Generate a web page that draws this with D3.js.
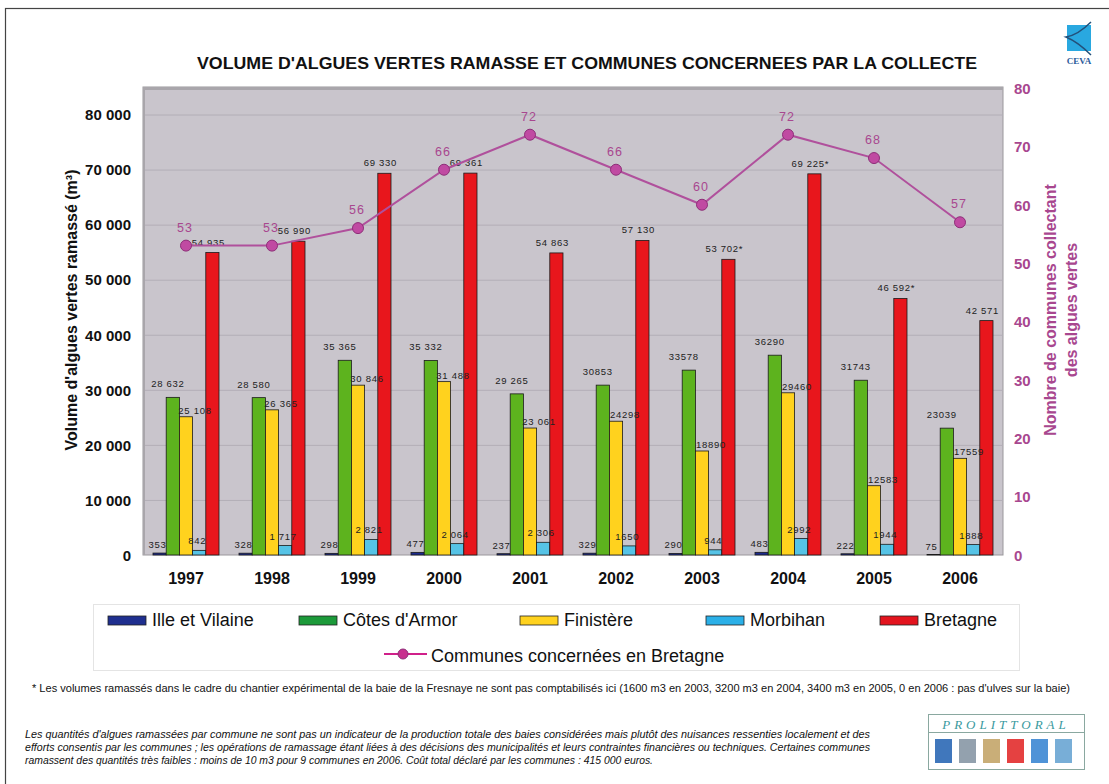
<!DOCTYPE html>
<html><head><meta charset="utf-8">
<script src="https://cdn.jsdelivr.net/npm/d3@7"></script>
<style>body{margin:0;background:#fff}svg{display:block}</style>
</head><body>
<svg id="c" width="1109" height="784"></svg>
<script>
const years = ["1997","1998","1999","2000","2001","2002","2003","2004","2005","2006"];
const seriesNames = ["Ille et Vilaine","Côtes d'Armor","Finistère","Morbihan","Bretagne"];
const illeEtVilaine = [353,328,298,477,237,329,290,483,222,75];
const cotesDArmor = [28632,28580,35365,35332,29265,30853,33578,36290,31743,23039];
const finistere = [25108,26365,30846,31488,23061,24298,18890,29460,12583,17559];
const morbihan = [842,1717,2821,2064,2306,1650,944,2992,1944,1888];
const bretagne = [54935,56990,69330,69361,54863,57130,53702,69225,46592,42571];
const communes = [53,53,56,66,72,66,60,72,68,57];
const labelsIV = ["353","328","298","477","237","329","290","483","222","75"];
const labelsCA = ["28 632","28 580","35 365","35 332","29 265","30853","33578","36290","31743","23039"];
const labelsFI = ["25 108","26 365","30 846","31 488","23 061","24298","18890","29460","12583","17559"];
const labelsMO = ["842","1 717","2 821","2 064","2 306","1650","944","2992","1944","1888"];
const labelsBR = ["54 935","56 990","69 330","69 361","54 863","57 130","53 702*","69 225*","46 592*","42 571"];
const leftTicks = [0,10000,20000,30000,40000,50000,60000,70000,80000];
const rightTicks = [0,10,20,30,40,50,60,70,80];

const colors = ["#1c2a8c","#5db31e","#ffd21e","#56c3e6","#e8161c"];
const legendColors = ["#1f2f8f","#1c9a3a","#ffd21e","#2bb0e8","#e3141e"];
const lineColor = "#b0509c";
const purple = "#a8478f";

const svg = d3.select("#c");
const F = "'Liberation Sans', Arial, sans-serif";
const FN = "'Liberation Sans Narrow', 'Liberation Sans', Arial, sans-serif";

// outer frame
svg.append("rect").attr("x",5.5).attr("y",8.5).attr("width",1120).attr("height",800)
  .attr("fill","none").attr("stroke","#444").attr("stroke-width",1.2);

const L=143,R=1003,T=87,B=555;
const x = d3.scaleBand().domain(years).range([L,R]);
const xs = d3.scaleBand().domain(seriesNames).range([10,76]);
const y = d3.scaleLinear().domain([0,85000]).range([B,T]);
const y2 = d3.scaleLinear().domain([0,80]).range([B,88]);

// plot background
svg.append("rect").attr("x",L).attr("y",T).attr("width",R-L).attr("height",B-T)
  .attr("fill","#c9c5cc").attr("stroke","#9a979c").attr("stroke-width",1);
svg.append("line").attr("x1",L).attr("x2",R).attr("y1",T+1.5).attr("y2",T+1.5).attr("stroke","#a9a6ab").attr("stroke-width",3);
svg.append("line").attr("x1",L+1).attr("x2",L+1).attr("y1",T).attr("y2",B).attr("stroke","#a9a6ab").attr("stroke-width",2);

// gridlines
svg.append("g").selectAll("line").data(leftTicks.filter(d=>d>0)).join("line")
  .attr("x1",L+2).attr("x2",R).attr("y1",d=>y(d)+0.5).attr("y2",d=>y(d)+0.5)
  .attr("stroke","#b3afb7").attr("stroke-width",1);

// left axis
const fmt = d => d3.format(",")(d).replace(/,/g," ");
const ax = svg.append("g").attr("transform",`translate(${L},0)`)
  .call(d3.axisLeft(y).tickValues(leftTicks).tickFormat(fmt).tickSize(0).tickPadding(12));
ax.select(".domain").remove();
ax.selectAll("text").attr("font-family",F).attr("font-weight","bold").attr("font-size",15).attr("fill","#111").attr("dy","0.35em");

// right axis
const ax2 = svg.append("g").attr("transform",`translate(${R},0)`)
  .call(d3.axisRight(y2).tickValues(rightTicks).tickSize(0).tickPadding(11));
ax2.select(".domain").remove();
ax2.selectAll("text").attr("font-family",F).attr("font-weight","bold").attr("font-size",15).attr("fill",purple).attr("dy","0.35em");

// x axis labels
svg.append("g").selectAll("text").data(years).join("text")
  .attr("x",d=>x(d)+x.bandwidth()/2).attr("y",584).attr("text-anchor","middle")
  .attr("font-family",FN).attr("font-weight","bold").attr("font-size",16).attr("fill","#111").text(d=>d);

// bars
const seriesData = [illeEtVilaine,cotesDArmor,finistere,morbihan,bretagne];
const seriesLabels = [labelsIV,labelsCA,labelsFI,labelsMO,labelsBR];
const labelDx = [-2,-5,9,-2,-4];
const labelDy = [-5,-10,-3,-6,-7];
seriesData.forEach((vals,si)=>{
  const g = svg.append("g");
  g.selectAll("rect").data(vals).join("rect")
    .attr("x",(d,i)=>x(years[i])+xs(seriesNames[si]))
    .attr("y",d=>y(d)).attr("width",xs.bandwidth()).attr("height",d=>B-y(d))
    .attr("fill",colors[si]).attr("stroke","#1a1a1a").attr("stroke-width",0.8);
});
seriesData.forEach((vals,si)=>{
  svg.append("g").selectAll("text").data(vals).join("text")
    .attr("x",(d,i)=>x(years[i])+xs(seriesNames[si])+xs.bandwidth()/2+labelDx[si])
    .attr("y",d=>y(d)+labelDy[si]).attr("text-anchor","middle")
    .attr("font-family",F).attr("font-size",9.5).attr("letter-spacing",0.7).attr("fill","#222")
    .text((d,i)=>seriesLabels[si][i]);
});

// line
const line = d3.line().x((d,i)=>x(years[i])+x.bandwidth()/2).y(d=>y2(d));
svg.append("path").datum(communes).attr("d",line).attr("fill","none").attr("stroke",lineColor).attr("stroke-width",2);
svg.append("g").selectAll("circle").data(communes).join("circle")
  .attr("cx",(d,i)=>x(years[i])+x.bandwidth()/2).attr("cy",d=>y2(d)).attr("r",5.5)
  .attr("fill","#c04aa2").attr("stroke","#8e2e78").attr("stroke-width",1);
svg.append("g").selectAll("text").data(communes).join("text")
  .attr("x",(d,i)=>x(years[i])+x.bandwidth()/2 - 1).attr("y",d=>y2(d)-14).attr("text-anchor","middle")
  .attr("font-family",F).attr("font-size",12.5).attr("letter-spacing",1).attr("fill",purple).text(d=>d);

// titles
svg.append("text").attr("x",587).attr("y",69).attr("text-anchor","middle")
  .attr("font-family",FN).attr("font-weight","bold").attr("font-size",17).attr("fill","#111")
  .attr("textLength",780).attr("lengthAdjust","spacingAndGlyphs")
  .text("VOLUME  D'ALGUES VERTES RAMASSE ET COMMUNES CONCERNEES PAR LA COLLECTE");
svg.append("text").attr("transform","translate(77,310) rotate(-90)").attr("text-anchor","middle")
  .attr("font-family",F).attr("font-weight","bold").attr("font-size",16).attr("fill","#111")
  .text("Volume d'algues vertes ramassé (m³)");
const rt = svg.append("text").attr("transform","translate(1056,310) rotate(-90)").attr("text-anchor","middle")
  .attr("font-family",F).attr("font-weight","bold").attr("font-size",16).attr("fill",purple);
rt.append("tspan").attr("x",0).attr("dy",0).text("Nombre de communes collectant");
rt.append("tspan").attr("x",0).attr("dy",21).text("des algues vertes");

// legend
svg.append("rect").attr("x",93.5).attr("y",604.5).attr("width",926).attr("height",66)
  .attr("fill","none").attr("stroke","#e4e4e4");
const legX = [108,299,520,706,880];
const lg = svg.append("g");
seriesNames.forEach((n,i)=>{
  lg.append("rect").attr("x",legX[i]).attr("y",616).attr("width",38).attr("height",9)
    .attr("fill",legendColors[i]).attr("stroke","#222").attr("stroke-width",0.8);
  lg.append("text").attr("x",legX[i]+44).attr("y",626).attr("font-family",FN).attr("font-size",18).attr("fill","#111").text(n);
});
lg.append("line").attr("x1",384).attr("x2",427).attr("y1",654).attr("y2",654).attr("stroke","#d0208a").attr("stroke-width",2);
lg.append("circle").attr("cx",403).attr("cy",654).attr("r",5).attr("fill","#c8308f").attr("stroke","#8e2e78");
lg.append("text").attr("x",431).attr("y",662).attr("font-family",FN).attr("font-size",18).attr("fill","#111").text("Communes concernées en Bretagne");

// footnotes
svg.append("text").attr("x",32).attr("y",692).attr("font-family",FN).attr("font-size",10.5).attr("fill","#111")
  .attr("textLength",1038).attr("lengthAdjust","spacingAndGlyphs")
  .text("* Les volumes ramassés dans le cadre du chantier expérimental de la baie de la Fresnaye ne sont pas comptabilisés ici (1600 m3 en 2003, 3200 m3 en 2004, 3400 m3 en 2005, 0 en 2006 : pas d'ulves sur la baie)");
const para = ["Les quantités d'algues ramassées par commune ne sont pas un indicateur de la production totale des baies considérées mais plutôt des nuisances ressenties localement et des",
"efforts consentis par les communes ; les opérations de ramassage étant liées à des décisions des municipalités et leurs contraintes financières ou techniques. Certaines communes",
"ramassent des quantités très faibles : moins de 10 m3 pour 9 communes en 2006. Coût total déclaré par les communes : 415 000  euros."];
const paraLen = [845,845,628];
para.forEach((t,i)=>{
  svg.append("text").attr("x",25).attr("y",738+i*13).attr("font-family",FN).attr("font-style","italic")
    .attr("font-size",10.5).attr("fill","#111").attr("textLength",paraLen[i]).attr("lengthAdjust","spacingAndGlyphs").text(t);
});

// CEVA logo
const lgC = svg.append("g");
lgC.append("rect").attr("x",1067).attr("y",25).attr("width",24).attr("height",26).attr("fill","#29a8e0");
lgC.append("path").attr("d","M1091,22 Q1078,35 1066,37 Q1078,42 1091,55").attr("fill","none").attr("stroke","#23507a").attr("stroke-width",1.5);
lgC.append("text").attr("x",1079).attr("y",64).attr("text-anchor","middle").attr("font-family","'Liberation Serif',serif")
  .attr("font-weight","bold").attr("font-size",9).attr("fill","#2a5a9a").text("CEVA");

// PROLITTORAL logo
const pg = svg.append("g");
pg.append("rect").attr("x",928.5).attr("y",714.5).attr("width",156).attr("height",55).attr("fill","#fff").attr("stroke","#8aa8a0");
pg.append("line").attr("x1",929).attr("x2",1084).attr("y1",732.5).attr("y2",732.5).attr("stroke","#8aa8a0");
pg.append("text").attr("x",1006).attr("y",729).attr("text-anchor","middle").attr("font-family","'Liberation Serif',serif")
  .attr("font-style","italic").attr("font-size",13).attr("letter-spacing",4).attr("fill","#3a9aa0").text("PROLITTORAL");
const lc = ["#1f5fb0","#8090a0","#c0a060","#e02020","#3080d0","#60a0d0"];
lc.forEach((c,i)=>{
  pg.append("rect").attr("x",935+i*24).attr("y",739).attr("width",17).attr("height",24).attr("fill",c).attr("opacity",0.85);
});
</script>
</body></html>
